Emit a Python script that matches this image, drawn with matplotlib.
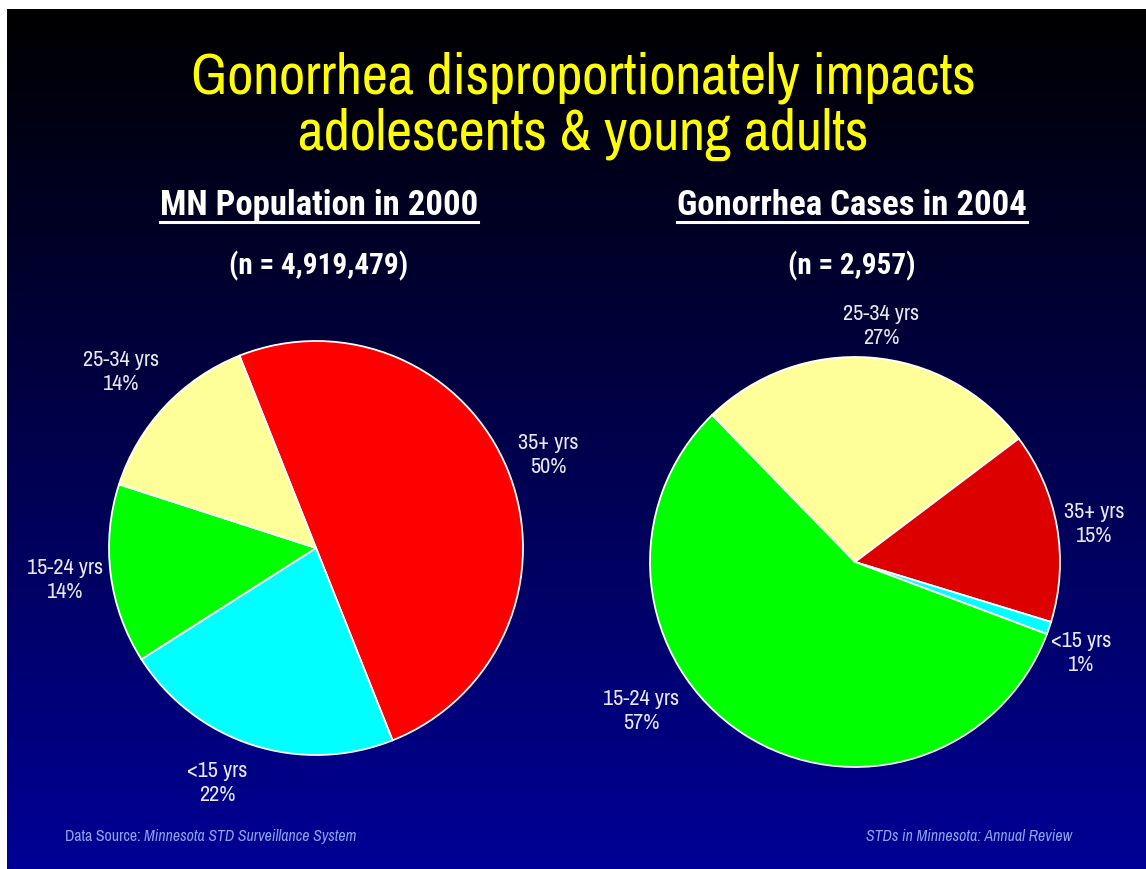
import numpy as np
import matplotlib.pyplot as plt
from matplotlib.lines import Line2D

# data
pop_labels = ['35+ yrs', '<15 yrs', '15-24 yrs', '25-34 yrs']
pop_pct = [50, 22, 14, 14]
pop_colors = ['#ff0000', '#00ffff', '#00ff00', '#ffff99']

case_labels = ['25-34 yrs', '35+ yrs', '<15 yrs', '15-24 yrs']
case_pct = [27, 15, 1, 57]
case_colors = ['#ffff99', '#dd0000', '#00ffff', '#00ff00']

title = 'Gonorrhea disproportionately impacts\nadolescents & young adults'
sub1 = 'MN Population in 2000'
sub2 = 'Gonorrhea Cases in 2004'
n1 = '(n = 4,919,479)'
n2 = '(n = 2,957)'

W, H = 1146, 869
FONT = ['Archivo Narrow', 'Liberation Sans', 'DejaVu Sans']
BOLD = ['Roboto Condensed', 'IBM Plex Sans Condensed', 'Liberation Sans', 'DejaVu Sans']
plt.rcParams['font.family'] = FONT

fig = plt.figure(figsize=(W / 100, H / 100), dpi=100)
fig.patch.set_facecolor('white')

# slide background gradient
bg = fig.add_axes([7 / W, 0, (W - 7) / W, (H - 9) / H])
grad = np.linspace(0, 1, 256)
img = np.zeros((256, 1, 3))
img[:, 0, 2] = grad * 0x96 / 255
bg.imshow(img, aspect='auto', extent=[0, 1, 0, 1])
bg.set_axis_off()


def px(x, y):
    return x / W, 1 - y / H


def pie_axes(cx, cy, r):
    s = 2.5 * r
    return fig.add_axes([(cx - s / 2) / W, 1 - (cy + s / 2) / H, s / W, s / H])


def draw_pie(ax, vals, labels, colors, start, tweak):
    txt = [f'{l}\n{v}%' for l, v in zip(labels, vals)]
    wedges, texts = ax.pie(vals, colors=colors, startangle=start, counterclock=False,
                           labels=txt, labeldistance=1.2,
                           wedgeprops=dict(edgecolor='white', linewidth=1.3),
                           textprops=dict(color='#e8e8f0', fontsize=16, linespacing=1.25,
                                          ha='center', va='center'))
    for w, t, d in zip(wedges, texts, tweak):
        a = np.deg2rad((w.theta1 + w.theta2) / 2 + d[0])
        t.set_position((d[1] * np.cos(a), d[1] * np.sin(a)))
        t.set_ha('center')
        t.set_va('center')
    ax.set_aspect('equal')


ax1 = pie_axes(316, 548, 207)
draw_pie(ax1, pop_pct, pop_labels, pop_colors, 111.7,
         [(0, 1.21), (-5, 1.23), (0, 1.22), (1, 1.27)])

ax2 = pie_axes(855, 562, 205)
draw_pie(ax2, case_pct, case_labels, case_colors, 134.2,
         [(-2, 1.16), (-1, 1.18), (-3, 1.19), (-22, 1.27)])

# titles
fig.text(*px(583, 106), title, color='#ffff00', fontsize=41, ha='center',
         va='center', linespacing=1.08)

fig.canvas.draw()
r = fig.canvas.get_renderer()
for x, s, n in [(319, sub1, n1), (852, sub2, n2)]:
    t = fig.text(*px(x, 215), s, color='white', fontsize=25, fontweight='bold',
                 family=BOLD, ha='center', va='baseline')
    bb = t.get_window_extent(renderer=r)
    yl = 1 - 222 / H
    fig.add_artist(Line2D([bb.x0 / W, bb.x1 / W], [yl, yl], color='white', lw=2.2))
    fig.text(*px(x, 266), n, color='white', fontsize=21, fontweight='bold',
             family=BOLD, ha='center', va='center')

# footer
t = fig.text(*px(65, 841), 'Data Source: ', color='#8aa4ee', fontsize=11.4, va='baseline')
bb = t.get_window_extent(renderer=r)
fig.text(bb.x1 / W, 1 - 841 / H, 'Minnesota STD Surveillance System', color='#8aa4ee',
         fontsize=11.4, style='italic', va='baseline')
fig.text(*px(1072, 841), 'STDs in Minnesota: Annual Review', color='#8aa4ee',
         fontsize=11.4, style='italic', va='baseline', ha='right')

fig.savefig('out.png', dpi=100, facecolor='white')
